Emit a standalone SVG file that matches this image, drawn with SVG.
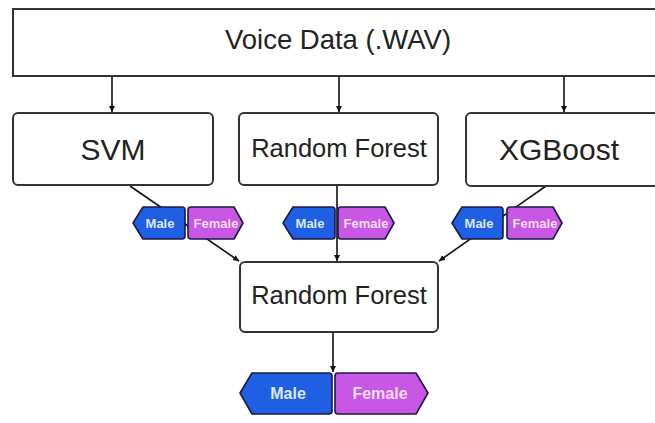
<svg xmlns="http://www.w3.org/2000/svg" width="655" height="423" viewBox="0 0 655 423">
<defs>
<style>
.box{fill:#fff;stroke:#333;stroke-width:2}
.t{font-family:"Liberation Sans",Arial,sans-serif;fill:#222;text-anchor:middle}
.ln{stroke:#111;stroke-width:1.6;fill:none}
.m{fill:#1f5fe3;stroke:#1a1a45;stroke-width:1.6;stroke-linejoin:round}
.f{fill:#c857e6;stroke:#1a1a45;stroke-width:1.6;stroke-linejoin:round}
.mt{font-family:"Liberation Sans",Arial,sans-serif;font-weight:bold;fill:#dce9ff;text-anchor:middle}
.ft{font-family:"Liberation Sans",Arial,sans-serif;font-weight:bold;fill:#f8ddfb;text-anchor:middle}
</style>
<marker id="ah" viewBox="0 0 10 10" refX="10" refY="5" markerWidth="6" markerHeight="6" orient="auto" markerUnits="userSpaceOnUse">
<path d="M0,0 L10,5 L0,10 Z" fill="#111"/>
</marker>
</defs>
<rect width="655" height="423" fill="#fff"/>

<g id="connectors">
<line class="ln" x1="112" y1="77" x2="112" y2="112" marker-end="url(#ah)"/>
<line class="ln" x1="339" y1="77" x2="339" y2="112" marker-end="url(#ah)"/>
<line class="ln" x1="564" y1="77" x2="564" y2="112" marker-end="url(#ah)"/>
<line class="ln" x1="130" y1="186" x2="239" y2="261" marker-end="url(#ah)"/>
<line class="ln" x1="337" y1="186" x2="337" y2="261" marker-end="url(#ah)"/>
<line class="ln" x1="546" y1="186" x2="439" y2="261" marker-end="url(#ah)"/>
<line class="ln" x1="333" y1="333" x2="333" y2="372" marker-end="url(#ah)"/>
</g>

<g id="voice-data">
<rect class="box" x="13" y="9" width="660" height="67"/>
<text class="t" x="338" y="49" font-size="27.5">Voice Data (.WAV)</text>
</g>

<g id="svm">
<rect class="box" x="13" y="113" width="200" height="72" rx="5"/>
<text class="t" x="113" y="160" font-size="30">SVM</text>
</g>

<g id="random-forest-1">
<rect class="box" x="239" y="113" width="199" height="72" rx="5"/>
<text class="t" x="339" y="157" font-size="25.5">Random Forest</text>
</g>

<g id="xgboost">
<rect class="box" x="466" y="113" width="200" height="73" rx="5"/>
<text class="t" x="559" y="160" font-size="30">XGBoost</text>
</g>

<g id="random-forest-final">
<rect class="box" x="240" y="262" width="198" height="70" rx="5"/>
<text class="t" x="339" y="304" font-size="25.5">Random Forest</text>
</g>

<g id="labels-svm">
<path class="m" d="M133,223 L143,207 L182,207 Q185,207 185,210 L185,236 Q185,239 182,239 L143,239 Z"/>
<text class="mt" x="160" y="228" font-size="13">Male</text>
<path class="f" d="M188,210 Q188,207 191,207 L234,207 L243,223 L234,239 L191,239 Q188,239 188,236 Z"/>
<text class="ft" x="216" y="228" font-size="13">Female</text>
</g>

<g id="labels-rf">
<path class="m" d="M283,223 L293,207 L332,207 Q335,207 335,210 L335,236 Q335,239 332,239 L293,239 Z"/>
<text class="mt" x="310" y="228" font-size="13">Male</text>
<path class="f" d="M338,210 Q338,207 341,207 L385,207 L394,223 L385,239 L341,239 Q338,239 338,236 Z"/>
<text class="ft" x="366" y="228" font-size="13">Female</text>
</g>

<g id="labels-xgb">
<path class="m" d="M452,223 L462,207 L500,207 Q503,207 503,210 L503,236 Q503,239 500,239 L462,239 Z"/>
<text class="mt" x="479" y="228" font-size="13">Male</text>
<path class="f" d="M507,210 Q507,207 510,207 L553,207 L562,223 L553,239 L510,239 Q507,239 507,236 Z"/>
<text class="ft" x="535" y="228" font-size="13">Female</text>
</g>

<g id="labels-final">
<path class="m" d="M240,393 L252,373 L329,373 Q332,373 332,376 L332,411 Q332,414 329,414 L252,414 Z"/>
<text class="mt" x="288" y="399" font-size="16">Male</text>
<path class="f" d="M335,376 Q335,373 338,373 L416,373 L428,393 L416,414 L338,414 Q335,414 335,411 Z"/>
<text class="ft" x="380" y="399" font-size="16">Female</text>
</g>
</svg>
